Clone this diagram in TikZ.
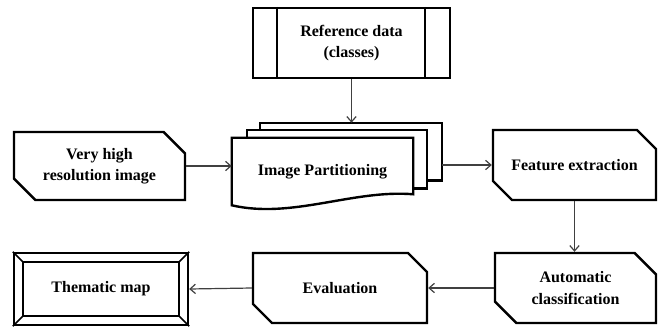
\documentclass[tikz,border=0pt]{standalone}
\usepackage{fontspec}
\setmainfont{Liberation Serif}
\usepackage{tikz}
\usetikzlibrary{arrows.meta,positioning,calc,shapes.misc,backgrounds}

\begin{document}
\begin{tikzpicture}[
    x=0.75pt, y=-0.75pt,
    every node/.style={font=\bfseries\fontsize{12}{16}\selectfont, align=center},
    box/.style={draw, line width=1.8pt, minimum height=52.5pt, inner sep=2pt},
    snip/.style={box, chamfered rectangle, chamfered rectangle corners={north east,south west},
        chamfered rectangle xsep=8pt, chamfered rectangle ysep=8pt},
    arr/.style={-{Straight Barb[length=4pt,width=7pt]}, line width=0.9pt, black!75},
]
    \useasboundingbox (0,0) rectangle (658,326);

    \node[box, minimum width=147.75pt] (ref) at (351.5,43) {Reference data\\(classes)};
    \node[snip, minimum width=128.25pt, minimum height=51pt] (vhr) at (99.5,166) {Very high\\resolution image};
    \node[minimum width=135.75pt, minimum height=50.25pt] (part) at (322.5,171.5) {Image Partitioning};
    \node[snip, minimum width=122.25pt] (feat) at (574.5,165) {Feature extraction};
    \node[snip, minimum width=120.75pt] (auto) at (575.5,288) {Automatic\\classification};
    \node[snip, minimum width=130.5pt] (eval) at (340,288) {Evaluation};
    \node[box, minimum width=130.5pt, minimum height=54pt] (map) at (101,289) {Thematic map};

    % side bars of the reference data box
    \draw[line width=1.8pt] ($(ref.north west)+(25,0)$) -- ($(ref.south west)+(25,0)$);
    \draw[line width=1.8pt] ($(ref.north east)+(-26,0)$) -- ($(ref.south east)+(-26,0)$);

    % bevel of the thematic map box
    \draw[line width=1.3pt] ($(map.north west)+(10,10)$) rectangle ($(map.south east)+(-10,-10)$);
    \draw[line width=1.3pt] (map.north west) -- ++(10,10) (map.north east) -- ++(-10,10)
        (map.south west) -- ++(10,-10) (map.south east) -- ++(-10,-10);

    % stacked pages behind the partitioning node
    \begin{pgfonlayer}{background}
        \draw[line width=1.8pt, fill=white] ($(part.north west)+(28,-15)$) rectangle ($(part.east)+(29,9)$);
        \draw[line width=1.8pt, fill=white] ($(part.north west)+(15,-8)$) rectangle ($(part.east)+(14,17)$);
        \draw[line width=1.8pt, fill=white] (part.south west) -- (part.north west) -- (part.north east)
            -- ($(part.south east)+(0,-11)$) .. controls ($(part.south east)+(-60,-16)$) and ($(part.south west)+(60,14)$) .. (part.south west) -- cycle;
    \end{pgfonlayer}
    \coordinate (partback) at ($(part.east)+(29,0)$);
    \coordinate (parttop) at ($(part.north west)+(28,-15)$);

    \draw[arr] (ref.south) -- (ref.south |- parttop);
    \draw[arr] (vhr.east) -- (vhr.east -| part.west);
    \draw[arr] (partback |- feat.west) -- (feat.west);
    \draw[arr] (feat.south) -- (feat.south |- auto.north);
    \draw[arr] (auto.west) -- (eval.east);
    \draw[arr] (eval.west) -- (map.east);
\end{tikzpicture}
\end{document}
